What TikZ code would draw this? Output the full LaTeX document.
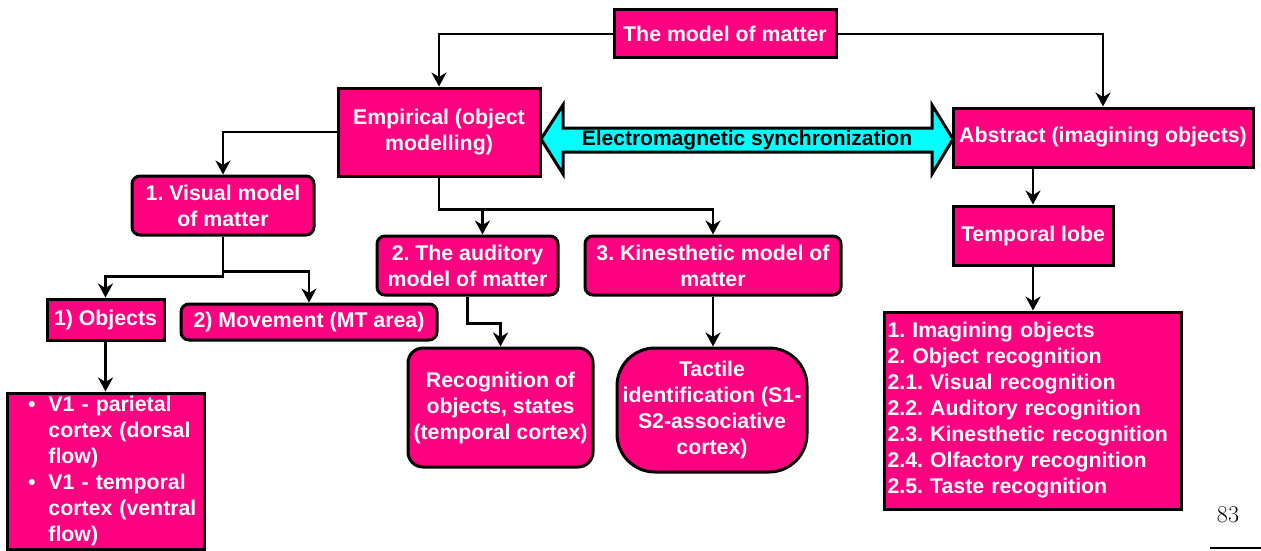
\documentclass[tikz,border=0pt]{standalone}
\usepackage{fontspec}
\setsansfont{Liberation Sans}
\usetikzlibrary{arrows.meta,calc}
\definecolor{pinkbox}{RGB}{255,0,128}
\definecolor{cyanarrow}{RGB}{0,255,255}
\frenchspacing
\begin{document}
\begin{tikzpicture}[x=1pt,y=-1pt,
  box/.style={draw=black, line width=3pt, fill=pinkbox, text=white,
    font=\sffamily\bfseries\fontsize{21.3}{26}\selectfont, align=center, inner sep=0pt},
  rbox/.style={box, rounded corners=8pt},
  conn/.style={line width=2.5pt, -{Stealth[length=14pt,width=15pt,inset=4.5pt]}},
]
\useasboundingbox (0,0) rectangle (1261,551);

\node[box, minimum width=222pt, minimum height=48pt] (model) at (725,34) {The model of matter};
\node[box, minimum width=202pt, minimum height=88pt] (emp) at (439,132) {Empirical (object\\modelling)};
\node[box, minimum width=300pt, minimum height=59pt] (abs) at (1103,137.5) {Abstract (imagining objects)};
\node[rbox, minimum width=182pt, minimum height=59pt] (vis) at (223,205.5) {1. Visual model\\of matter};
\node[box, minimum width=117pt, minimum height=41pt] (obj) at (105.5,319.5) {1) Objects};
\node[rbox, minimum width=256pt, minimum height=36pt] (mov) at (309,322) {2) Movement (MT area)};
\node[box, minimum width=197pt, minimum height=156pt, text width=197pt, align=left] (v1) at (105.5,471)
  {\begin{tabular}{@{\hspace{21pt}}c@{\hspace{13pt}}l@{}}
   \textbullet & V1 - parietal\\
               & cortex (dorsal\\
               & flow)\\
   \textbullet & V1 - temporal\\
               & cortex (ventral\\
               & flow)
   \end{tabular}};
\node[rbox, minimum width=181pt, minimum height=59pt] (aud) at (467.5,265.5) {2. The auditory\\model of matter};
\node[rbox, minimum width=256pt, minimum height=59pt] (kin) at (713,265.5) {3. Kinesthetic model of\\matter};
\node[box, rounded corners=15pt, minimum width=185pt, minimum height=119pt] (rec) at (500.5,407.5) {Recognition of\\objects, states\\(temporal cortex)};
\node[box, rounded corners=38pt, minimum width=190pt, minimum height=124pt] (tac) at (712,410) {Tactile\\identification (S1-\\S2-associative\\cortex)};
\node[box, minimum width=160pt, minimum height=59pt] (temp) at (1033,235.5) {Temporal lobe};
\node[box, minimum width=297pt, minimum height=197pt, text width=291pt, align=left] (list) at (1033,410.5)
  {1. Imagining objects\\2. Object recognition\\2.1. Visual recognition\\2.2. Auditory recognition\\2.3. Kinesthetic recognition\\2.4. Olfactory recognition\\2.5. Taste recognition};

\draw[line width=3pt, fill=cyanarrow, line join=miter]
  (541,139) -- (563,105) -- (563,128) -- (932,128) -- (932,105) -- (953,139)
  -- (932,174) -- (932,152) -- (563,152) -- (563,174) -- cycle;
\node[font=\sffamily\bfseries\fontsize{21}{26}\selectfont, inner sep=0pt] (sync) at (747,140) {Electromagnetic synchronization};

\draw[conn] (model.west) -| (emp.north);
\draw[conn] (model.east) -| (abs.north);
\draw[conn] (emp.west) -| (vis.north);
\draw[conn] (vis.south) -- ++(0,35) -| (mov.north);
\draw[conn] (vis.south) -- ++(0,40) -| (obj.north);
\draw[conn] (obj.south) -- (v1.north);
\draw[conn] (emp.south) -- ++(0,32) -| ($(aud.north)+(15,0)$);
\draw[conn] (emp.south) -- ++(0,32) -| (kin.north);
\draw[conn] (aud.south) -- ++(0,27) -| (rec.north);
\draw[conn] (kin.south) -- (kin.south |- tac.north);
\draw[conn] (temp.north |- abs.south) -- (temp.north);
\draw[conn] (temp.south) -- (list.north);

\node[font=\fontsize{24}{28}\selectfont, inner sep=0pt] (page) at (1228,515) {83};
\draw[line width=2pt] (1210,548) -- (1261,548);
\end{tikzpicture}
\end{document}
